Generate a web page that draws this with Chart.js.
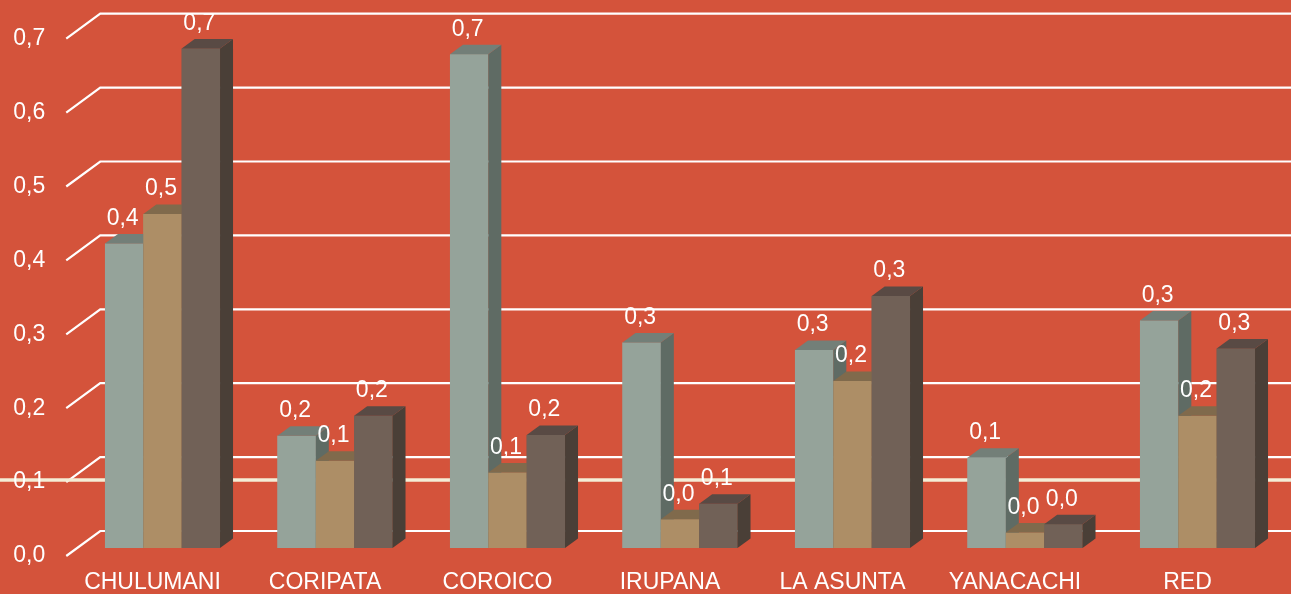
<!DOCTYPE html>
<html>
<head>
<meta charset="utf-8">
<script src="https://cdn.jsdelivr.net/npm/chart.js@4.4.1/dist/chart.umd.min.js"></script>
<style>
  html, body { margin: 0; padding: 0; background: #D4533B; overflow: hidden; }
  #wrap { width: 1291px; height: 594px; position: relative; }
</style>
</head>
<body>
<div id="wrap"><canvas id="c" width="1291" height="594"></canvas></div>
<script>
// Municipios and their three series
const municipios = ['CHULUMANI', 'CORIPATA', 'COROICO', 'IRUPANA', 'LA ASUNTA', 'YANACACHI', 'RED'];
const serie1 = [0.412, 0.152, 0.668, 0.278, 0.268, 0.122, 0.308];
const serie2 = [0.452, 0.118, 0.102, 0.039, 0.226, 0.021, 0.179];
const serie3 = [0.676, 0.179, 0.153, 0.060, 0.341, 0.032, 0.270];
const yTicks = [0, 0.1, 0.2, 0.3, 0.4, 0.5, 0.6, 0.7];
const guideValue = 0.1;

const FONT = '"Liberation Sans", Arial, Helvetica, sans-serif';
const faces = [
  { front: '#95A39A', side: '#5F6B64', top: '#737F78' },
  { front: '#AD8E66', side: '#7D6648', top: '#806A4C' },
  { front: '#716157', side: '#4A3F37', top: '#594A44' }
];
const DX = 13, DY = -9.5;   // oblique depth of each bar
const WALL = 17;            // back wall sits this far above the bar plane
const FRONT = 8;            // front edge of the side wall sits below the bar plane

const fmt = v => v.toFixed(1).replace('.', ',');

function poly(ctx, pts, color) {
  ctx.beginPath();
  ctx.moveTo(pts[0][0], pts[0][1]);
  for (let i = 1; i < pts.length; i++) ctx.lineTo(pts[i][0], pts[i][1]);
  ctx.closePath();
  ctx.fillStyle = color;
  ctx.fill();
}

const walls3d = {
  id: 'walls3d',
  beforeDatasetsDraw(chart) {
    const ctx = chart.ctx, y = chart.scales.y, area = chart.chartArea;
    ctx.save();
    // back wall gridlines with their side-wall diagonals
    ctx.strokeStyle = '#FFFFFF';
    ctx.lineWidth = 2.2;
    ctx.fillStyle = '#FFFFFF';
    ctx.font = '23px ' + FONT;
    ctx.textAlign = 'right';
    ctx.textBaseline = 'middle';
    yTicks.forEach(v => {
      const py = y.getPixelForValue(v);
      ctx.beginPath();
      ctx.moveTo(area.left - 10, py + FRONT);
      ctx.lineTo(area.left + 24, py - WALL);
      ctx.lineTo(chart.width, py - WALL);
      ctx.stroke();
    });
    // pale guide line across the whole width
    const gy = y.getPixelForValue(guideValue) + 6;
    ctx.strokeStyle = '#F4EDD6';
    ctx.lineWidth = 3.5;
    ctx.beginPath();
    ctx.moveTo(0, gy);
    ctx.lineTo(chart.width, gy);
    ctx.stroke();
    yTicks.forEach(v => {
      const py = y.getPixelForValue(v);
      ctx.fillText(fmt(v), area.left - 31, py + FRONT);
    });
    ctx.restore();
  },
  afterDatasetsDraw(chart) {
    const ctx = chart.ctx;
    const n = chart.data.labels.length;
    const metas = chart.data.datasets.map((d, i) => chart.getDatasetMeta(i));
    ctx.save();
    for (let k = 0; k < n; k++) {
      metas.forEach((meta, j) => {
        const el = meta.data[k];
        el.draw(ctx);
        const half = el.width / 2;
        const l = el.x - half, r = el.x + half, t = el.y, b = el.base;
        poly(ctx, [[r, t], [r + DX, t + DY], [r + DX, b + DY], [r, b]], faces[j].side);
        poly(ctx, [[l, t], [l + DX, t + DY], [r + DX, t + DY], [r, t]], faces[j].top);
      });
    }
    // value labels
    ctx.fillStyle = '#FFFFFF';
    ctx.font = '23px ' + FONT;
    ctx.textAlign = 'center';
    ctx.textBaseline = 'middle';
    metas.forEach((meta, j) => {
      const values = chart.data.datasets[j].data;
      meta.data.forEach((el, k) => {
        ctx.fillText(fmt(values[k]), el.x - 1.5, el.y - 25);
      });
    });
    ctx.restore();
  }
};

new Chart(document.getElementById('c'), {
  type: 'bar',
  data: {
    labels: municipios,
    datasets: [
      { label: 'Serie 1', data: serie1, backgroundColor: faces[0].front },
      { label: 'Serie 2', data: serie2, backgroundColor: faces[1].front },
      { label: 'Serie 3', data: serie3, backgroundColor: faces[2].front }
    ]
  },
  options: {
    responsive: false,
    animation: false,
    devicePixelRatio: 1,
    datasets: { bar: { barPercentage: 1, categoryPercentage: 0.667, borderWidth: 0 } },
    layout: { padding: { top: 30.7, left: 76.25, right: 7.25, bottom: -24 } },
    plugins: { legend: { display: false }, tooltip: { enabled: false } },
    scales: {
      y: { display: false, min: 0, max: 0.7 },
      x: {
        grid: { display: false, drawTicks: false },
        border: { display: false },
        ticks: {
          color: '#FFFFFF',
          font: { family: FONT, size: 23, lineHeight: 1 },
          padding: 23.5,
          labelOffset: -10,
          maxRotation: 0,
          autoSkip: false
        }
      }
    }
  },
  plugins: [walls3d]
});
</script>
</body>
</html>
